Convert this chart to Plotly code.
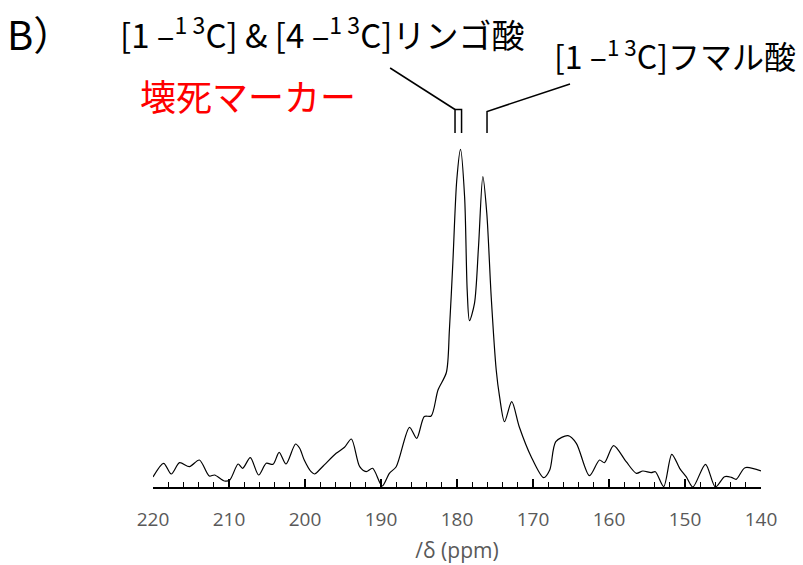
import plotly.graph_objects as go

# ---- data (chemical shift in ppm, intensity in arbitrary units) ----
ppm = [220.0, 218.6, 217.6, 216.5, 215.2, 213.9, 212.6, 211.9, 210.6, 209.9,
       208.8, 208.2, 207.2, 206.1, 205.1, 204.2, 203.4, 202.5, 201.25, 200.7,
       200.1, 199.2, 198.75, 197.7, 195.9, 194.8, 193.9, 192.8, 191.95, 191.1,
       189.85, 188.9, 188.0, 186.25, 185.3, 184.3, 183.4, 182.5, 181.4, 181.0,
       180.55, 180.03, 179.54, 179.0, 178.66, 178.36, 177.7, 177.17, 176.6, 176.08,
       175.5, 174.84, 174.4, 173.75, 172.8, 171.8, 170.24, 168.6, 167.8, 167.0,
       165.4, 164.3, 162.57, 161.25, 160.6, 159.4, 157.74, 156.4, 155.55, 154.45,
       153.9, 152.8, 151.74, 150.7, 149.85, 148.97, 147.3, 146.0, 144.8, 143.9,
       143.26, 142.1, 140.0]
intensity = [10, 23.7, 13, 24.3, 20.3, 27, 11, 12, 6, 7,
             23, 18.7, 29.3, 12, 23.7, 22.7, 34.7, 23, 43, 38.7,
             27, 15.3, 13, 20.3, 33.7, 39.7, 48, 20.3, 15.3, 18.7,
             1, 13.7, 20.3, 59.7, 48.7, 70.5, 71, 97, 114.5, 157,
             223.7, 307, 337.7, 290.3, 197, 166.3, 183.7, 240.3, 310.3, 273.7,
             190.3, 117, 90.3, 65.3, 85.3, 60, 30.3, 9.3, 17, 45.3,
             51.3, 43.7, 11.3, 27, 24.3, 41.3, 25.3, 13.7, 16, 14.3,
             15.3, 0.5, 32.7, 18.7, 10.3, 0, 22.7, 0, 10.3, 9.7,
             7.7, 19.3, 16]

tick_vals = [220, 210, 200, 190, 180, 170, 160, 150, 140]
tick_text = ["220", "210", "200", "190", "180", "170", "160", "150", "140"]

panel_label = "B）"
malate_label = "[1 –<sup>1 3</sup>C] &amp; [4 –<sup>1 3</sup>C]リンゴ酸"
fumarate_label = "[1 –<sup>1 3</sup>C]フマル酸"
marker_label = "壊死マーカー"
x_title = "/δ (ppm)"

# leader marks (ppm, intensity units)
malate_mark_x = [188.8, 180.26, 180.26, 179.4, 179.4]
malate_mark_y = [419, 377.5, 354, 377.5, 354]
fumarate_mark_x = [165.13, 176.05, 176.05]
fumarate_mark_y = [403, 375.5, 354]

fig = go.Figure()
fig.add_trace(go.Scatter(
    x=ppm, y=intensity, mode="lines",
    line=dict(color="black", width=1.2, shape="spline", smoothing=0.8),
    hoverinfo="skip", showlegend=False, cliponaxis=False))

# leader lines
fig.add_trace(go.Scatter(
    x=[malate_mark_x[0], malate_mark_x[1]], y=[malate_mark_y[0], malate_mark_y[1]],
    mode="lines", line=dict(color="black", width=1.5), showlegend=False, hoverinfo="skip"))
fig.add_trace(go.Scatter(
    x=[malate_mark_x[2], malate_mark_x[1], malate_mark_x[3], malate_mark_x[4]],
    y=[malate_mark_y[2], malate_mark_y[1], malate_mark_y[3], malate_mark_y[4]],
    mode="lines", line=dict(color="black", width=1.5), showlegend=False, hoverinfo="skip"))
fig.add_trace(go.Scatter(
    x=fumarate_mark_x, y=fumarate_mark_y,
    mode="lines", line=dict(color="black", width=1.5), showlegend=False, hoverinfo="skip"))

def px_to_paper_x(px):
    return (px - 153) / 608.0

def px_to_paper_y(py):
    return (487 - py) / 487.0

cjk = "Noto Sans CJK JP, Arial, sans-serif"
annots = [
    dict(text=panel_label, x=px_to_paper_x(40), y=px_to_paper_y(33), size=40, color="black"),
    dict(text=malate_label, x=px_to_paper_x(322), y=px_to_paper_y(33), size=33, color="black"),
    dict(text=fumarate_label, x=px_to_paper_x(675), y=px_to_paper_y(54), size=32, color="black"),
    dict(text=marker_label, x=px_to_paper_x(248), y=px_to_paper_y(95), size=36, color="#ff0000"),
]
for a in annots:
    fig.add_annotation(text=a["text"], x=a["x"], y=a["y"], xref="paper", yref="paper",
                       xanchor="center", yanchor="middle", showarrow=False,
                       font=dict(family=cjk, size=a["size"], color=a["color"]))

fig.update_layout(
    width=803, height=565,
    margin=dict(l=153, r=42, t=0, b=78),
    paper_bgcolor="white", plot_bgcolor="white",
    xaxis=dict(
        range=[220, 140], autorange=False,
        tickmode="array", tickvals=tick_vals, ticktext=tick_text,
        ticks="inside", ticklen=8, tickwidth=1.5, tickcolor="black",
        minor=dict(dtick=2, ticks="inside", ticklen=5, tickwidth=1, tickcolor="black", showgrid=False),
        showline=True, linecolor="black", linewidth=1.5,
        showgrid=False, zeroline=False,
        tickfont=dict(family="Open Sans, sans-serif", size=19, color="#595959"),
        ticklabelstandoff=14,
        title=dict(text=x_title, font=dict(family="Open Sans, sans-serif", size=21, color="#595959"),
                   standoff=13),
    ),
    yaxis=dict(range=[0, 487], autorange=False, visible=False, showgrid=False, zeroline=False),
)

fig.write_html("out.html", config={"displayModeBar": False},
               post_script="document.body.style.margin='0';")
